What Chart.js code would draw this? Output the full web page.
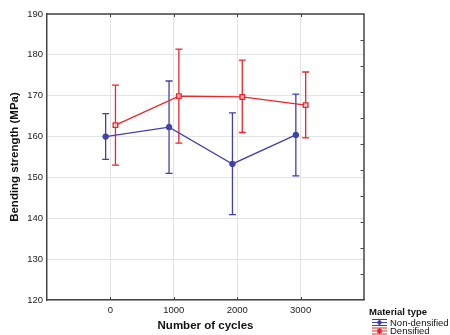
<!DOCTYPE html>
<html><head><meta charset="utf-8">
<script src="https://cdn.jsdelivr.net/npm/chart.js@4/dist/chart.umd.min.js"></script>
<style>html,body{margin:0;padding:0;background:#fff}</style>
</head><body>
<canvas id="c" width="450" height="335"></canvas>
<script>
const cycles = [0, 1000, 2000, 3000];
const legendTitle = 'Material type';
const seriesNames = ['Non-densified', 'Densified'];
const nonDensMean = [160.0, 162.3, 153.3, 160.4];
const nonDensLow  = [154.4, 151.0, 140.9, 150.4];
const nonDensHigh = [165.6, 173.6, 165.8, 170.4];
const densMean = [162.8, 169.9, 169.7, 167.7];
const densLow  = [153.0, 158.4, 161.0, 159.7];
const densHigh = [172.6, 181.4, 178.7, 175.8];
const yTicks = [120, 130, 140, 150, 160, 170, 180, 190];

const BLUE = '#4141ad';
const RED = '#e8282c';
const FONT = "'Liberation Sans', Arial, sans-serif";
const OFFSETS = [-75, 80]; // horizontal dodge of the two groups (x units)

function mk(mean, off) { return cycles.map((c, i) => ({x: c + off, y: mean[i]})); }

const errorBars = {
  id: 'errorBars',
  beforeDatasetsDraw(chart) {
    const ctx = chart.ctx, ys = chart.scales.y;
    chart.data.datasets.forEach((ds, di) => {
      const meta = chart.getDatasetMeta(di);
      ctx.save();
      ctx.strokeStyle = ds.borderColor;
      ctx.lineWidth = 1.3;
      meta.data.forEach((pt, i) => {
        const x = pt.x;
        const yl = ys.getPixelForValue(ds.errLow[i]);
        const yh = ys.getPixelForValue(ds.errHigh[i]);
        ctx.beginPath();
        ctx.moveTo(x, yl); ctx.lineTo(x, yh);
        ctx.moveTo(x - 3.5, yl); ctx.lineTo(x + 3.5, yl);
        ctx.moveTo(x - 3.5, yh); ctx.lineTo(x + 3.5, yh);
        ctx.stroke();
      });
      ctx.restore();
    });
  }
};

const frame = {
  id: 'frame',
  afterDraw(chart) {
    const ctx = chart.ctx, a = chart.chartArea, xs = chart.scales.x;
    ctx.save();
    ctx.strokeStyle = '#444';
    ctx.lineWidth = 1.5;
    ctx.beginPath();
    ctx.moveTo(a.left, a.top); ctx.lineTo(a.right, a.top); ctx.lineTo(a.right, a.bottom);
    ctx.stroke();
    ctx.lineWidth = 1;
    ctx.beginPath();
    cycles.forEach(c => {
      const x = Math.round(xs.getPixelForValue(c)) + 0.5;
      ctx.moveTo(x, a.top); ctx.lineTo(x, a.top + 3);
      ctx.moveTo(x, a.bottom); ctx.lineTo(x, a.bottom - 3);
    });
    for (let i = 1; i < 11; i++) {
      const y = Math.round(a.top + i * (a.bottom - a.top) / 11) + 0.5;
      ctx.moveTo(a.right - 0.5, y); ctx.lineTo(a.right - 3.5, y);
    }
    ctx.stroke();

    // legend
    const lx = 369, ly = 312;
    ctx.fillStyle = '#111';
    ctx.font = 'bold 9.5px ' + FONT;
    ctx.textBaseline = 'middle';
    ctx.textAlign = 'left';
    ctx.fillText(legendTitle, lx, ly);
    ctx.font = '9.5px ' + FONT;
    chart.data.datasets.forEach((ds, di) => {
      const y = ly + 10.5 + di * 8.5;
      const x0 = 372, x1 = 387, xm = (x0 + x1) / 2;
      ctx.strokeStyle = ds.borderColor;
      ctx.lineWidth = 1.1;
      ctx.beginPath();
      ctx.moveTo(x0, y - 3); ctx.lineTo(x1, y - 3);
      ctx.moveTo(x0, y + 3); ctx.lineTo(x1, y + 3);
      ctx.moveTo(x0, y); ctx.lineTo(x1, y);
      ctx.moveTo(xm, y - 3); ctx.lineTo(xm, y + 3);
      ctx.stroke();
      ctx.fillStyle = ds.borderColor;
      if (di === 0) { ctx.beginPath(); ctx.arc(xm, y, 2.2, 0, Math.PI * 2); ctx.fill(); }
      else { ctx.fillRect(xm - 2.2, y - 2.2, 4.4, 4.4); }
      ctx.fillStyle = '#111';
      ctx.fillText(ds.label, 390, y + 0.5);
    });
    ctx.restore();
  }
};

new Chart(document.getElementById('c'), {
  type: 'line',
  data: {
    datasets: [
      { label: seriesNames[0], data: mk(nonDensMean, OFFSETS[0]), errLow: nonDensLow, errHigh: nonDensHigh,
        borderColor: BLUE, backgroundColor: BLUE, borderWidth: 1.3, pointStyle: 'circle', pointRadius: 2.8,
        pointBorderWidth: 1, pointBackgroundColor: BLUE, tension: 0 },
      { label: seriesNames[1], data: mk(densMean, OFFSETS[1]), errLow: densLow, errHigh: densHigh,
        borderColor: RED, backgroundColor: '#fff', borderWidth: 1.3, pointStyle: 'rect', pointRadius: 3.2,
        pointBorderWidth: 1.4, pointBackgroundColor: 'rgba(255,255,255,0.6)', tension: 0 }
    ]
  },
  options: {
    responsive: false,
    animation: false,
    devicePixelRatio: 1,
    layout: { padding: { top: 14, right: 86, left: 0, bottom: 0 } },
    plugins: { legend: { display: false }, tooltip: { enabled: false } },
    scales: {
      x: {
        type: 'linear', min: -1000, max: 4000,
        afterBuildTicks: s => { s.ticks = cycles.map(v => ({ value: v })); },
        afterFit: s => { s.height = 35; },
        grid: { color: '#e4e4e4', lineWidth: 1, drawTicks: false },
        border: { color: '#444', width: 1.5 },
        ticks: { color: '#222', font: { family: FONT, size: 9.5 }, padding: 5, maxRotation: 0,
                 callback: v => String(v) },
        title: { display: true, text: 'Number of cycles', color: '#111',
                 font: { family: FONT, size: 11.5, weight: 'bold' }, padding: { top: 0, bottom: 2 } }
      },
      y: {
        min: 120, max: 190,
        afterBuildTicks: s => { s.ticks = yTicks.map(v => ({ value: v })); },
        afterFit: s => { s.width = 47; },
        grid: { color: '#e4e4e4', lineWidth: 1, drawTicks: false },
        border: { color: '#444', width: 1.5 },
        ticks: { color: '#222', font: { family: FONT, size: 9.5 }, padding: 4,
                 callback: v => String(v) },
        title: { display: true, text: 'Bending strength (MPa)', color: '#111',
                 font: { family: FONT, size: 11.5, weight: 'bold' }, padding: { top: 8, bottom: 0 } }
      }
    }
  },
  plugins: [errorBars, frame]
});
</script>
</body></html>
